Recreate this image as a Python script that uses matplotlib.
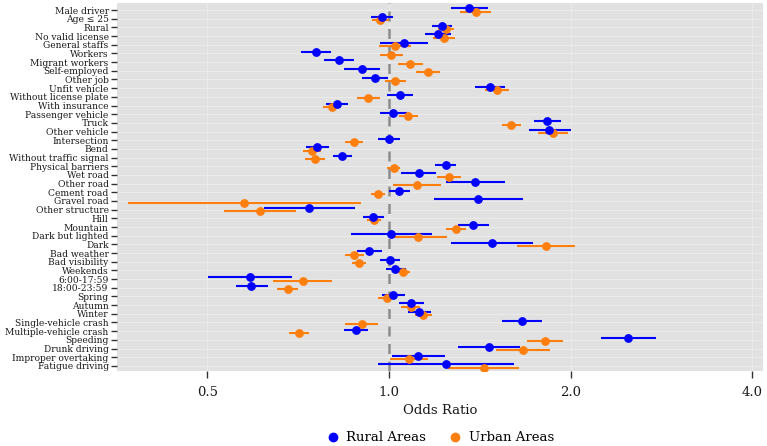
import matplotlib.pyplot as plt
from matplotlib.lines import Line2D
from matplotlib.ticker import FixedLocator, FixedFormatter, NullLocator

plt.rcParams['font.family'] = ['DejaVu Serif']

labels = [
    "Male driver", "Age \u2264 25", "Rural", "No valid license", "General staffs",
    "Workers", "Migrant workers", "Self-employed", "Other job", "Unfit vehicle",
    "Without license plate", "With insurance", "Passenger vehicle", "Truck",
    "Other vehicle", "Intersection", "Bend", "Without traffic signal",
    "Physical barriers", "Wet road", "Other road", "Cement road", "Gravel road",
    "Other structure", "Hill", "Mountain", "Dark but lighted", "Dark",
    "Bad weather", "Bad visibility", "Weekends", "6:00-17:59", "18:00-23:59",
    "Spring", "Autumn", "Winter", "Single-vehicle crash", "Multiple-vehicle crash",
    "Speeding", "Drunk driving", "Improper overtaking", "Fatigue driving",
]

rural_or = [1.357, 0.973, 1.223, 1.206, 1.058, 0.757, 0.827, 0.903, 0.947, 1.471,
            1.043, 0.820, 1.017, 1.830, 1.844, 1.000, 0.760, 0.837, 1.242, 1.120,
            1.390, 1.039, 1.406, 0.738, 0.940, 1.380, 1.009, 1.484, 0.925, 1.004,
            1.024, 0.589, 0.591, 1.017, 1.088, 1.121, 1.662, 0.881, 2.494, 1.467,
            1.118, 1.243]
rural_lo = [1.266, 0.934, 1.177, 1.149, 0.966, 0.715, 0.781, 0.842, 0.903, 1.389,
            0.992, 0.786, 0.966, 1.740, 1.707, 0.958, 0.728, 0.806, 1.193, 1.048,
            1.243, 1.000, 1.186, 0.621, 0.905, 1.303, 0.864, 1.269, 0.884, 0.967,
            0.987, 0.502, 0.557, 0.974, 1.039, 1.076, 1.540, 0.842, 2.245, 1.303,
            1.013, 0.960]
rural_hi = [1.461, 1.014, 1.271, 1.267, 1.161, 0.801, 0.876, 0.967, 0.995, 1.557,
            1.095, 0.854, 1.070, 1.929, 2.002, 1.044, 0.795, 0.869, 1.290, 1.198,
            1.559, 1.085, 1.666, 0.878, 0.980, 1.463, 1.180, 1.733, 0.973, 1.042,
            1.067, 0.690, 0.629, 1.064, 1.142, 1.173, 1.796, 0.924, 2.769, 1.651,
            1.238, 1.614]

urban_or = [1.392, 0.967, 1.242, 1.234, 1.023, 1.009, 1.085, 1.161, 1.024, 1.509,
            0.924, 0.804, 1.076, 1.595, 1.873, 0.875, 0.744, 0.753, 1.018, 1.259,
            1.113, 0.959, 0.575, 0.610, 0.943, 1.292, 1.117, 1.821, 0.876, 0.891,
            1.056, 0.719, 0.679, 0.991, 1.086, 1.140, 0.901, 0.709, 1.816, 1.666,
            1.079, 1.435]
urban_lo = [1.311, 0.937, 1.207, 1.184, 0.963, 0.967, 1.036, 1.107, 0.986, 1.443,
            0.884, 0.778, 1.038, 1.538, 1.769, 0.846, 0.721, 0.726, 0.992, 1.203,
            1.017, 0.934, 0.369, 0.533, 0.918, 1.243, 1.000, 1.630, 0.846, 0.868,
            1.032, 0.643, 0.653, 0.960, 1.048, 1.104, 0.846, 0.683, 1.696, 1.503,
            1.004, 1.254]
urban_hi = [1.475, 1.001, 1.282, 1.287, 1.088, 1.056, 1.139, 1.215, 1.066, 1.581,
            0.966, 0.833, 1.118, 1.657, 1.983, 0.907, 0.770, 0.782, 1.043, 1.318,
            1.218, 0.985, 0.898, 0.701, 0.970, 1.342, 1.249, 2.035, 0.908, 0.915,
            1.083, 0.803, 0.706, 1.024, 1.127, 1.180, 0.960, 0.738, 1.946, 1.847,
            1.161, 1.641]

x_ticks = [0.5, 1.0, 2.0, 4.0]

BLUE = "#0000FF"
ORANGE = "#FF7F0E"
DODGE = 0.19

fig = plt.figure(figsize=(7.67, 4.46), dpi=100)
ax = fig.add_axes([0.1525, 0.168, 0.8425, 0.825])
ax.set_facecolor("#E1E1E1")

n = len(labels)
ypos = list(range(n))

for y in ypos:
    ax.axhline(y, color="#EBEBEB", linewidth=0.8, zorder=0)
for t in x_ticks:
    ax.axvline(t, color="#EAEAEA", linewidth=0.8, zorder=0)

ax.axvline(1.0, color="#8C8C8C", linestyle=(0, (4, 3)), linewidth=1.8, zorder=1)


def draw(ors, los, his, color, off):
    ys = [y + off for y in ypos]
    ax.hlines(ys, los, his, color=color, linewidth=1.5, zorder=3)
    ax.plot(ors, ys, "o", color=color, markersize=5.3, zorder=4, linestyle="none")


draw(urban_or, urban_lo, urban_hi, ORANGE, DODGE)
draw(rural_or, rural_lo, rural_hi, BLUE, -DODGE)

ax.set_xscale("log")
ax.set_xlim(0.354, 4.17)
ax.xaxis.set_major_locator(FixedLocator(x_ticks))
ax.xaxis.set_major_formatter(FixedFormatter(["0.5", "1.0", "2.0", "4.0"]))
ax.xaxis.set_minor_locator(NullLocator())

ax.set_ylim(n - 0.4, -0.8)
ax.set_yticks(ypos)
ax.set_yticklabels(labels, fontsize=6.6)
ax.tick_params(axis="y", length=4, width=1, color="#333333", pad=2, labelcolor="#1a1a1a")
ax.tick_params(axis="x", length=5, width=1, color="#333333", pad=6, labelsize=9.5,
               labelcolor="#1a1a1a")

for s in ax.spines.values():
    s.set_visible(False)

ax.set_xlabel("Odds Ratio", fontsize=9.5, color="#1a1a1a", labelpad=3)

handles = [
    Line2D([], [], marker="o", color=BLUE, linestyle="none", markersize=6, label="Rural Areas"),
    Line2D([], [], marker="o", color=ORANGE, linestyle="none", markersize=6, label="Urban Areas"),
]
fig.legend(handles=handles, loc="center", bbox_to_anchor=(0.574, 0.018), ncol=2,
           frameon=False, fontsize=9.5, handletextpad=0.5, columnspacing=1.7,
           handlelength=1.0)

fig.savefig("out.png", dpi=100)
